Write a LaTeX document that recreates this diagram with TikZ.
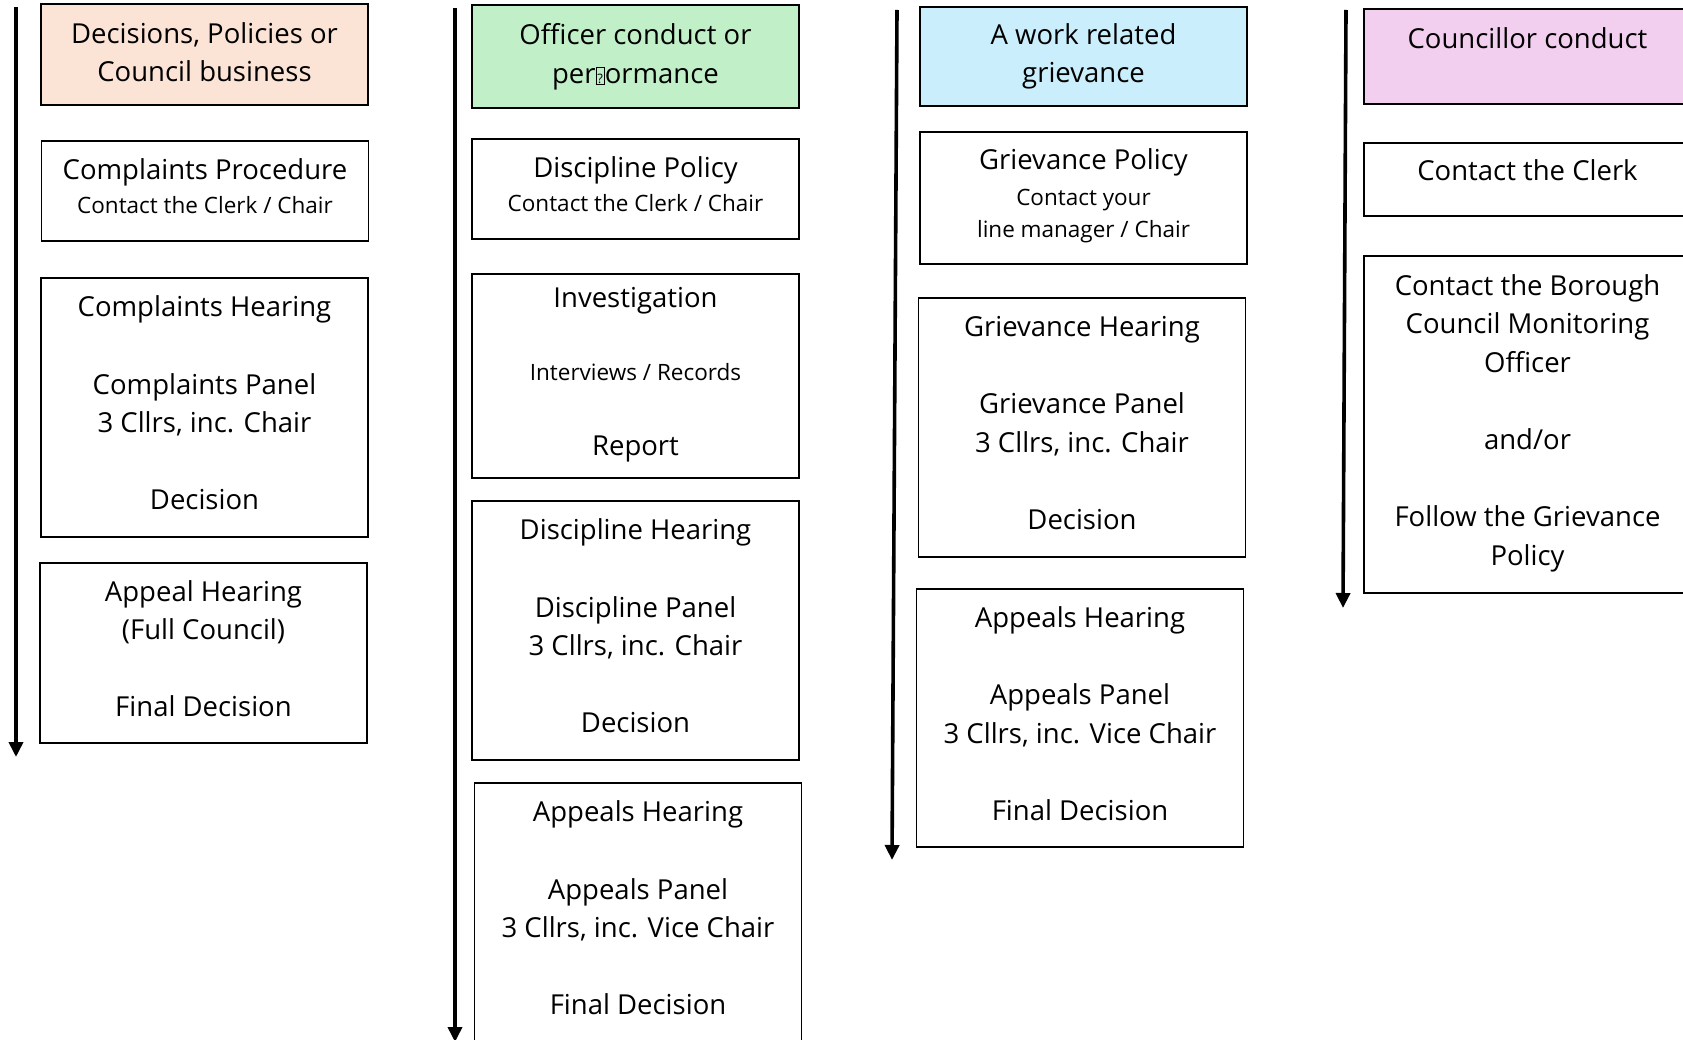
\documentclass[tikz,border=0pt]{standalone}
\usepackage{fontspec}
\setmainfont{Open Sans}
\usetikzlibrary{arrows.meta}
\newcommand\bigf{\fontsize{27.5}{38.6}\selectfont}
\newcommand\smf{\fontsize{22.5}{32}\selectfont}
\newcommand\missingglyph{{\fboxsep=1pt\fboxrule=0.8pt\fbox{\rule{0pt}{14pt}\fontsize{13}{13}\selectfont ?}}}
\definecolor{peach}{HTML}{FBE3D6}
\definecolor{lgreen}{HTML}{C1F0C8}
\definecolor{lblue}{HTML}{CAEEFB}
\definecolor{lpink}{HTML}{F2CEEF}
\tikzset{
  box/.style={draw=black, line width=1.8pt, minimum width=327pt, inner sep=0pt, align=center, font=\bigf,
    execute at end node={\rule[-9pt]{0pt}{9pt}}},
  headbox/.style={draw=black, line width=1.8pt, minimum width=327pt, inner sep=0pt, align=center, font=\bigf,
    execute at end node={\rule[-5pt]{0pt}{5pt}}},
  flow/.style={line width=3.6pt, -{Triangle[length=15pt,width=14pt]}}
}
\begin{document}
\begin{tikzpicture}[x=1pt,y=-1pt]
\useasboundingbox (0,0) rectangle (1683,1040);
% column 1
\node[headbox, fill=peach, minimum height=101pt] (h1) at (204.5,54.5) {Decisions, Policies or\\Council business};
\node[box, minimum height=100pt] (p1) at (205,191) {Complaints Procedure\\[-4.6pt]{\smf Contact the Clerk / Chair}};
\node[box, minimum height=259pt] (c1) at (204.5,407.5) {Complaints Hearing\\[38.6pt]Complaints Panel\\3 Cllrs, inc. Chair\\[38.6pt]Decision};
\node[box, minimum height=180pt] (a1) at (203.5,653) {Appeal Hearing\\(Full Council)\\[38.6pt]Final Decision};
\coordinate (s1) at (16,7);
\coordinate (e1) at (16,757);
\draw[flow] (s1) -- (e1);
% column 2
\node[headbox, fill=lgreen, minimum height=103pt] (h2) at (635.5,56.5) {Officer conduct or\\per\missingglyph ormance};
\node[box, minimum height=100pt] (p2) at (635.5,189) {Discipline Policy\\[-4.6pt]{\smf Contact the Clerk / Chair}};
\node[box, minimum height=204pt] (i2) at (635.5,376) {Investigation\\[34.4pt]{\smf Interviews / Records}\\[36.4pt]Report};
\node[box, minimum height=259pt] (d2) at (635.5,630.5) {Discipline Hearing\\[38.6pt]Discipline Panel\\3 Cllrs, inc. Chair\\[38.6pt]Decision};
\node[box, minimum height=259pt] (a2) at (638,912.5) {Appeals Hearing\\[38.6pt]Appeals Panel\\3 Cllrs, inc. Vice Chair\\[38.6pt]Final Decision};
\coordinate (s2) at (455,8);
\coordinate (e2) at (455,1042);
\draw[flow] (s2) -- (e2);
% column 3
\node[headbox, fill=lblue, minimum height=99pt] (h3) at (1083.5,56.5) {A work related\\grievance};
\node[box, minimum height=132pt] (p3) at (1083.5,198) {Grievance Policy\\[-2.6pt]{\smf Contact your}\\[-6.6pt]{\smf line manager / Chair}};
\node[box, minimum height=259pt] (g3) at (1082,427.5) {Grievance Hearing\\[38.6pt]Grievance Panel\\3 Cllrs, inc. Chair\\[38.6pt]Decision};
\node[box, minimum height=258pt] (a3) at (1080,718) {Appeals Hearing\\[38.6pt]Appeals Panel\\3 Cllrs, inc. Vice Chair\\[38.6pt]Final Decision};
\coordinate (s3) at (897,10);
\coordinate (e3) at (892,860);
\draw[flow] (s3) -- (e3);
% column 4
\node[headbox, fill=lpink, minimum height=95pt] (h4) at (1527.5,56.5) {Councillor conduct\\[-7pt]\mbox{}};
\node[box, minimum height=73pt] (p4) at (1527.5,179.5) {Contact the Clerk\\[-29pt]\mbox{}};
\node[box, minimum height=337pt] (b4) at (1527.5,424.5) {Contact the Borough\\Council Monitoring\\Officer\\[38.6pt]and/or\\[38.6pt]Follow the Grievance\\Policy};
\coordinate (s4) at (1346,10);
\coordinate (e4) at (1343,608);
\draw[flow] (s4) -- (e4);
\end{tikzpicture}
\end{document}
